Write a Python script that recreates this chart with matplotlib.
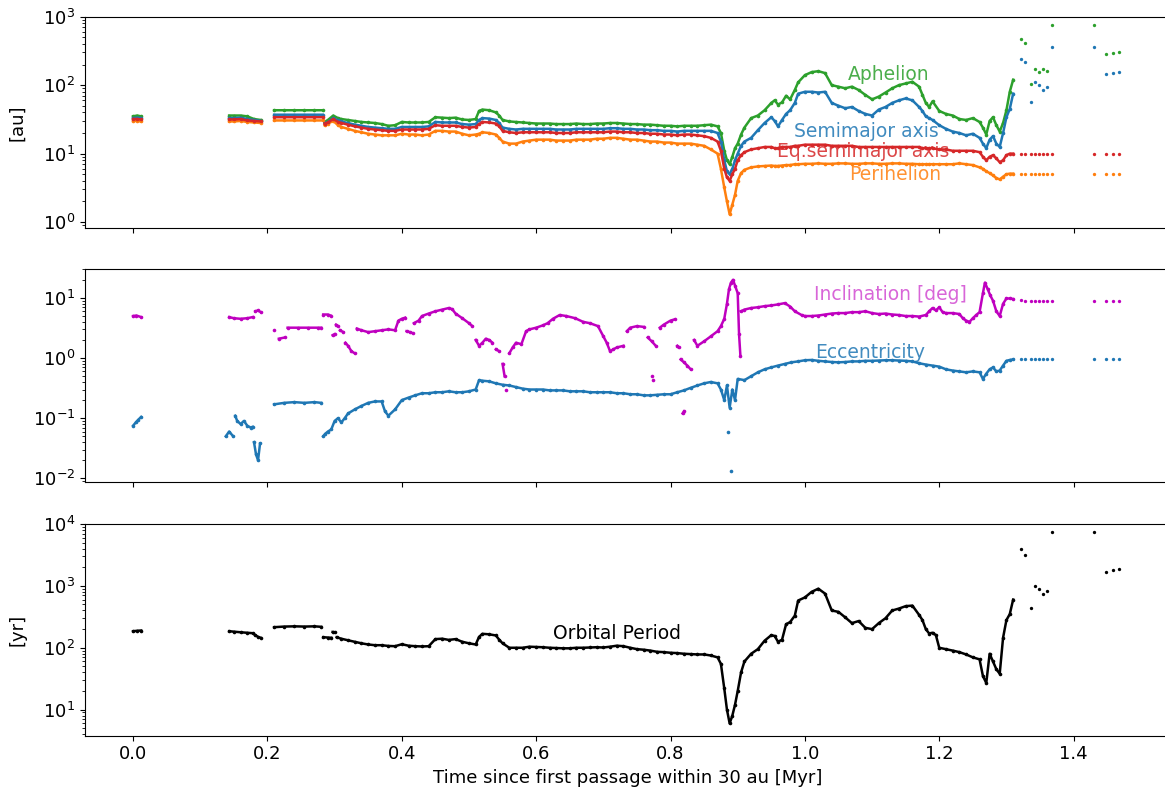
import numpy as np
import matplotlib
matplotlib.use("Agg")
import matplotlib.pyplot as plt

nan = np.nan

# ---- top panel: distances [au] (nan = gap in the record) ----
t_top = [0.0, 0.006, 0.012, nan,
         0.143, 0.15, 0.16, 0.17, 0.18, 0.19, nan,
         0.21, 0.225, 0.24, 0.255, 0.27, 0.282, nan,
         0.285, 0.29, 0.298, 0.305, 0.31, 0.32, 0.33, 0.34, 0.35, 0.36, 0.37, 0.38, 0.39,
         0.40, 0.41, 0.42, 0.43, 0.44, 0.45, 0.46, 0.47, 0.48, 0.49, 0.50, 0.51, 0.515,
         0.52, 0.53, 0.54, 0.545, 0.55, 0.56, 0.57, 0.58, 0.59, 0.60, 0.61, 0.62, 0.63,
         0.64, 0.65, 0.66, 0.67, 0.68, 0.69, 0.70, 0.71, 0.72, 0.73, 0.74, 0.75, 0.76,
         0.77, 0.78, 0.79, 0.80, 0.81, 0.82, 0.83, 0.84, 0.85, 0.86, 0.87, 0.875, 0.88,
         0.884, 0.888, 0.892, 0.896, 0.90, 0.905, 0.91, 0.92, 0.93, 0.94, 0.95, 0.955,
         0.96, 0.966, 0.972, 0.978, 0.985, 0.99, 1.00, 1.01, 1.02, 1.03, 1.04, 1.05,
         1.06, 1.07, 1.08, 1.09, 1.10, 1.11, 1.12, 1.13, 1.14, 1.15, 1.16, 1.17, 1.175,
         1.18, 1.185, 1.19, 1.20, 1.21, 1.22, 1.23, 1.24, 1.25, 1.26, 1.265, 1.27, 1.275,
         1.28, 1.285, 1.29, 1.295, 1.30, 1.305, 1.31]
aphelion = [35, 36, 35, nan,
            36, 36, 36, 35, 32, 31, nan,
            43, 43, 43, 43, 43, 43, nan,
            29, 31, 36, 33, 32, 31, 30, 29, 28.5, 28, 27, 25.5, 26,
            29, 28.5, 28.5, 28.5, 29, 34, 33.5, 33, 33.5, 31.5, 31, 32, 42,
            44, 43, 40, 36, 31, 29.5, 29, 28.5, 28, 27.5, 27.5, 27.5, 27,
            27, 27, 27.5, 27, 27, 27.5, 27.5, 28, 28, 27.5, 27, 27, 26.5,
            26.5, 26, 25.5, 25.5, 25, 25.5, 25.5, 25.5, 26, 26.5, 25, 20, 11,
            8, 7, 9, 12, 14, 19, 24, 33, 36, 43, 55, 60,
            52, 56, 70, 62, 85, 110, 140, 155, 160, 150, 100, 95,
            90, 95, 85, 72, 62, 68, 78, 90, 100, 106, 112, 95, 72,
            55, 48, 58, 42, 38, 36, 32, 31, 33, 29, 24, 19, 30,
            34, 26, 21, 28, 43, 80, 120]
semimajor = [33, 33.5, 33, nan,
             33, 33, 33.5, 32, 31, 30, nan,
             37, 37, 37, 37, 37, 37, nan,
             28, 29, 33, 30.5, 29.5, 28, 26.5, 25.5, 24.5, 24, 23.5, 23, 23,
             24.5, 24.5, 24.5, 24.5, 25, 29, 28.5, 28.5, 28.5, 27, 26.5, 27, 31,
             33, 32.5, 31, 28, 24, 23, 22.5, 23, 23, 23, 23, 23, 22.5,
             22.5, 22.5, 23, 23, 23, 23, 23, 23.5, 23.5, 23, 23, 22.5, 22.5,
             22, 22, 21.5, 21.5, 21, 21.5, 21.5, 21.5, 21.5, 21.5, 20, 15, 8,
             5.5, 5, 6, 8, 10, 13, 15, 17, 22, 28, 34, 30,
             25, 31, 38, 43, 55, 75, 80, 80, 78, 80, 55, 50,
             46, 48, 42, 38, 36, 44, 48, 55, 60, 64, 60, 48, 42,
             35, 33, 31, 26, 23, 21, 20, 18.5, 19.5, 17, 14, 12, 16,
             18, 14, 12.5, 20, 34, 45, 75]
eq_semimajor = [32, 32, 31.5, nan,
                31.5, 31.5, 32, 30.5, 30, 29.5, nan,
                34, 34, 34, 34, 34, 34, nan,
                27.5, 28.5, 32, 29, 28, 26.5, 25, 24, 23, 22.5, 22, 21.5, 21.5,
                22.5, 22.5, 22.5, 22.5, 23, 26, 25.5, 25.5, 25.5, 24.5, 24, 24.5, 27,
                29, 28.5, 27.5, 25, 21.5, 20.5, 20, 20.5, 20.5, 20.5, 20.5, 20.5, 20,
                20, 20, 20.5, 20.5, 20.5, 20.5, 20.5, 21, 21, 20.5, 20.5, 20, 20,
                19.5, 19.5, 19, 19, 18.5, 19, 19, 18.5, 18, 17, 15, 11, 6,
                4.5, 4, 5, 6, 8, 9.5, 10.5, 11.5, 12, 12.5, 12.5, 12,
                12, 12.5, 12.5, 12.5, 13, 13, 13.5, 13.5, 13.5, 13.5, 13, 13,
                13, 13, 12.5, 12.5, 12.5, 12.5, 12.5, 12.5, 12.5, 12.5, 12.5, 12.5, 12,
                12, 12, 12, 11.5, 11.5, 11, 11, 11, 11, 10.5, 9, 8, 9,
                9.5, 8.5, 7.5, 8, 9.5, 10, 10]
perihelion = [30, 30, 29.5, nan,
              29.5, 29.5, 30, 29, 28.5, 28, nan,
              30.5, 30.5, 30.5, 30.5, 30.5, 30.5, nan,
              26, 27.5, 30, 26, 24.5, 23, 21.5, 20.5, 19.5, 19, 18.5, 18.5, 18.5,
              19.5, 19, 19, 18.5, 19, 21.5, 21.5, 21, 21, 19.5, 18.5, 19, 19.5,
              20.5, 20, 19, 17, 15, 14, 14, 15, 15.5, 16, 16, 16, 15.5,
              15.5, 15.5, 16, 16, 16, 16.5, 16.5, 17, 17, 16.5, 16, 16, 15.5,
              15, 15, 14.5, 14.5, 14, 14, 14, 13.5, 13, 11.5, 10, 6, 3.2,
              2, 1.3, 1.8, 2.5, 4, 5.2, 5.8, 6.3, 6.5, 6.6, 6.7, 6.6,
              6.6, 6.7, 6.8, 6.8, 7, 7, 7.1, 7.1, 7.2, 7.1, 7.1, 7.2,
              7.2, 7.1, 7.1, 7.2, 7.2, 7.1, 7.1, 7.2, 7.2, 7.1, 7.1, 7.0, 7.0,
              7.0, 7.0, 7.0, 7.0, 7.0, 7.0, 7.2, 7.0, 6.8, 6.3, 6.0, 5.5, 5.2,
              4.8, 4.4, 4.2, 4.6, 5.0, 5.1, 5.1]

# sparse late-time outputs
t_tail = [1.322, 1.328, 1.336, 1.342, 1.348, 1.354, 1.36, 1.368, 1.43, 1.448, 1.458, 1.468]
aphelion_tail = [480, 410, 105, 175, 155, 170, 160, 750, 750, 285, 290, 300]
semimajor_tail = [245, 220, 57, 112, 100, 85, 95, 365, 365, 145, 150, 155]
eq_semimajor_tail = [10, 10, 10, 10, 10, 10, 10, 10, 10, 10, 10, 10]
perihelion_tail = [5.1, 5.1, 5.1, 5.1, 5.1, 5.1, 5.1, 5.1, 5.1, 5.1, 5.1, 5.1]

# ---- middle panel ----
t_inc = [0.0, 0.005, 0.012, nan,
         0.143, 0.15, 0.16, 0.17, 0.178, nan, 0.182, 0.186, 0.19, nan,
         0.21, nan, 0.217, 0.226, nan, 0.23, 0.245, 0.26, 0.275, 0.28, nan,
         0.283, 0.29, 0.294, nan, 0.297, 0.30, nan, 0.302, 0.305, nan, 0.308, 0.313, nan,
         0.316, 0.32, 0.325, 0.33, nan,
         0.333, 0.34, 0.35, 0.36, 0.37, 0.38, 0.39, 0.395, 0.40, 0.405, nan,
         0.407, 0.412, 0.416, nan,
         0.418, 0.425, 0.43, 0.44, 0.45, 0.46, 0.47, 0.475, 0.48, 0.49, 0.50, 0.505, nan,
         0.51, 0.515, 0.52, 0.525, 0.53, 0.535, nan, 0.54, 0.545, nan, 0.55, 0.553, nan, 0.555, nan,
         0.56, 0.565, 0.57, 0.578, 0.585, 0.59, 0.60, 0.61, 0.617, 0.625, 0.635, 0.645,
         0.658, 0.67, 0.68, 0.692, 0.70, 0.705, 0.71, 0.715, 0.72, 0.73, nan,
         0.735, 0.74, 0.75, 0.76, nan, 0.766, 0.772, 0.778, nan, 0.772, nan, 0.774, nan,
         0.784, 0.79, 0.80, 0.806, nan, 0.81, 0.812, nan, 0.815, 0.82, 0.825, 0.83, nan,
         0.818, 0.82, nan,
         0.835, 0.84, 0.85, 0.86, 0.87, 0.875, 0.88, 0.884, 0.887, 0.89, 0.893, 0.896, 0.90,
         0.902, 0.904, nan,
         0.905, 0.91, 0.92, 0.93, 0.94, 0.95, 0.96, 0.97, 0.978, 0.985, 0.995, 1.00, 1.01,
         1.02, 1.03, 1.04, 1.05, 1.06, 1.07, 1.08, 1.09, 1.10, 1.11, 1.12, 1.13, 1.14, 1.15,
         1.16, 1.17, 1.18, 1.185, 1.19, 1.195, 1.20, 1.205, 1.21, 1.22, 1.23, 1.235, 1.24,
         1.245, 1.25, 1.255, 1.26, 1.265, 1.268, 1.272, 1.276, 1.28, 1.285, 1.29, 1.295,
         1.30, 1.305, 1.31]
inclination = [5.0, 5.1, 4.8, nan,
               4.8, 4.6, 4.5, 4.6, 4.8, nan, 6.0, 6.2, 5.8, nan,
               2.9, nan, 2.1, 2.2, nan, 3.2, 3.2, 3.2, 3.2, 3.2, nan,
               5.3, 5.3, 5.1, nan, 2.4, 2.5, nan, 3.6, 3.4, nan, 2.9, 2.7, nan,
               1.8, 1.6, 1.3, 1.2, nan,
               3.1, 2.9, 2.7, 2.8, 2.9, 3.0, 2.9, 4.2, 4.5, 4.7, nan,
               2.8, 2.7, 2.6, nan,
               3.8, 4.2, 5.0, 5.5, 6.0, 6.4, 6.8, 6.5, 5.5, 4.6, 3.8, 3.4, nan,
               2.0, 1.6, 1.8, 2.1, 2.0, 1.8, nan, 1.4, 1.3, nan, 0.8, 0.5, nan, 0.3, nan,
               1.2, 1.5, 1.8, 1.7, 2.8, 3.0, 3.2, 3.5, 3.8, 4.5, 5.2, 5.0,
               4.6, 4.0, 3.8, 3.4, 2.3, 1.8, 1.3, 1.4, 1.5, 1.6, nan,
               2.8, 3.2, 3.4, 3.3, nan, 2.2, 1.9, 1.6, nan, 0.5, nan, 0.43, nan,
               3.2, 3.6, 4.2, 4.4, nan, 1.6, 1.5, nan, 0.95, 0.85, 0.75, 0.65, nan,
               0.12, 0.13, nan,
               2.0, 1.6, 1.9, 2.3, 2.8, 3.4, 4.5, 8, 14, 18, 20, 16, 12,
               2.5, 1.1, nan,
               6.0, 6.4, 6.8, 7.0, 7.3, 7.5, 7.8, 8.2, 7.2, 6.0, 5.2, 5.0, 5.0,
               5.1, 5.3, 5.5, 5.6, 5.6, 5.8, 5.8, 6.0, 5.6, 5.4, 5.5, 5.3, 5.2, 5.0,
               5.0, 4.9, 5.2, 6.0, 6.8, 6.2, 7.0, 5.8, 5.6, 5.6, 5.4, 4.6, 4.2,
               4.0, 4.6, 5.2, 5.8, 12, 18, 14, 11, 9, 6, 5, 8,
               9.8, 9.8, 9.6]
inclination_tail = [9.3, 9.0, 9.0, 9.0, 8.8, 8.8, 8.8, 8.8, 8.8, 8.8, 8.8, 8.8]

t_ecc = [0.0, 0.004, 0.008, 0.012, nan,
         0.138, 0.143, 0.149, nan,
         0.152, 0.155, 0.16, 0.165, 0.17, 0.175, 0.178, nan,
         0.18, 0.183, 0.186, 0.189, nan,
         0.21, 0.225, 0.24, 0.255, 0.27, 0.28, nan,
         0.283, 0.286, 0.29, 0.295, 0.30, 0.305, 0.31, 0.315, 0.32, 0.33, 0.34, 0.35,
         0.36, 0.37, 0.375, 0.38, 0.39, 0.40, 0.41, 0.42, 0.43, 0.44, 0.45, 0.46, 0.47,
         0.48, 0.49, 0.50, 0.51, 0.515, 0.52, 0.53, 0.54, 0.55, 0.56, 0.57, 0.58, 0.59,
         0.60, 0.61, 0.62, 0.63, 0.64, 0.65, 0.66, 0.67, 0.68, 0.69, 0.70, 0.71, 0.72,
         0.73, 0.74, 0.75, 0.76, 0.77, 0.78, 0.79, 0.80, 0.81, 0.82, 0.83, 0.84, 0.85,
         0.86, 0.87, 0.875, 0.88, 0.884, 0.888, 0.892, 0.896, 0.90, 0.91, 0.92, 0.93,
         0.94, 0.95, 0.96, 0.97, 0.98, 0.99, 1.00, 1.01, 1.02, 1.03, 1.04, 1.05, 1.06,
         1.07, 1.08, 1.09, 1.10, 1.11, 1.12, 1.13, 1.14, 1.15, 1.16, 1.17, 1.18, 1.19,
         1.20, 1.21, 1.22, 1.23, 1.24, 1.25, 1.26, 1.265, 1.27, 1.275, 1.28, 1.285,
         1.29, 1.295, 1.30, 1.305, 1.31, nan,
         0.885, nan, 0.89]
eccentricity = [0.075, 0.085, 0.095, 0.105, nan,
                0.05, 0.06, 0.05, nan,
                0.11, 0.09, 0.08, 0.09, 0.075, 0.07, 0.072, nan,
                0.04, 0.025, 0.02, 0.038, nan,
                0.17, 0.18, 0.185, 0.18, 0.185, 0.18, nan,
                0.05, 0.055, 0.06, 0.065, 0.09, 0.10, 0.085, 0.10, 0.12, 0.14, 0.16, 0.18,
                0.19, 0.19, 0.13, 0.11, 0.14, 0.20, 0.22, 0.24, 0.26, 0.26, 0.27, 0.27, 0.28,
                0.27, 0.27, 0.28, 0.30, 0.43, 0.42, 0.41, 0.38, 0.36, 0.35, 0.33, 0.31, 0.30,
                0.30, 0.30, 0.29, 0.29, 0.29, 0.28, 0.28, 0.28, 0.27, 0.27, 0.27, 0.27, 0.26,
                0.26, 0.25, 0.25, 0.24, 0.24, 0.245, 0.25, 0.25, 0.27, 0.29, 0.32, 0.35, 0.38,
                0.40, 0.38, 0.30, 0.20, 0.35, 0.15, 0.30, 0.20, 0.45, 0.43, 0.50, 0.58,
                0.65, 0.70, 0.75, 0.80, 0.85, 0.88, 0.92, 0.93, 0.90, 0.88, 0.86, 0.85, 0.86,
                0.88, 0.88, 0.90, 0.90, 0.91, 0.92, 0.92, 0.91, 0.90, 0.88, 0.82, 0.78, 0.75,
                0.72, 0.65, 0.62, 0.60, 0.58, 0.60, 0.58, 0.45, 0.55, 0.65, 0.70, 0.60,
                0.62, 0.75, 0.90, 0.93, 0.95, nan,
                0.06, nan, 0.013]
eccentricity_tail = [0.96, 0.96, 0.96, 0.96, 0.96, 0.96, 0.96, 0.96, 0.96, 0.96, 0.96, 0.96]

# ---- bottom panel: orbital period [yr] ----
t_per = [0.0, 0.006, 0.012, nan,
         0.143, 0.15, 0.16, 0.17, 0.178, 0.182, 0.186, 0.19, nan,
         0.21, 0.225, 0.24, 0.255, 0.27, 0.28, nan,
         0.283, 0.29, 0.295, nan, 0.297, 0.30, nan,
         0.303, 0.31, 0.32, 0.33, 0.34, 0.35, 0.36, 0.37, 0.38, 0.39, 0.40, 0.41, 0.42,
         0.43, 0.44, 0.45, 0.46, 0.47, 0.48, 0.49, 0.50, 0.51, 0.515, 0.52, 0.53, 0.54,
         0.545, 0.55, 0.56, 0.57, 0.58, 0.59, 0.60, 0.61, 0.62, 0.63, 0.64, 0.65, 0.66,
         0.67, 0.68, 0.69, 0.70, 0.71, 0.72, 0.73, 0.74, 0.75, 0.76, 0.77, 0.78, 0.79,
         0.80, 0.81, 0.82, 0.83, 0.84, 0.85, 0.86, 0.87, 0.875, 0.88, 0.884, 0.888, 0.892,
         0.896, 0.90, 0.905, 0.91, 0.92, 0.93, 0.94, 0.95, 0.955, 0.96, 0.966, 0.972,
         0.978, 0.985, 0.99, 1.00, 1.01, 1.02, 1.03, 1.04, 1.05, 1.06, 1.07, 1.08, 1.09,
         1.10, 1.11, 1.12, 1.13, 1.14, 1.15, 1.16, 1.17, 1.175, 1.18, 1.185, 1.19, 1.195,
         1.20, 1.21, 1.22, 1.23, 1.24, 1.25, 1.26, 1.265, 1.27, 1.275, 1.28, 1.285, 1.29,
         1.295, 1.30, 1.305, 1.31]
period = [185, 188, 190, nan,
          185, 182, 178, 175, 172, 160, 150, 145, nan,
          215, 220, 222, 220, 222, 218, nan,
          148, 146, 145, nan, 180, 178, nan,
          148, 140, 132, 125, 118, 113, 110, 110, 107, 106, 114, 108, 106,
          105, 106, 138, 140, 134, 138, 125, 118, 113, 150, 168, 165, 158,
          135, 118, 100, 100, 100, 104, 103, 102, 100, 99, 98, 98, 100,
          100, 101, 102, 101, 104, 108, 106, 100, 95, 93, 90, 86, 85,
          83, 82, 80, 79, 78, 78, 75, 70, 55, 22, 10, 6, 8,
          12, 20, 40, 60, 80, 95, 130, 160, 155, 125, 135, 240,
          260, 330, 580, 650, 800, 900, 750, 400, 380, 310, 250, 270, 210,
          200, 250, 300, 400, 430, 470, 480, 340, 280, 200, 170, 175, 160,
          100, 95, 90, 85, 78, 70, 65, 35, 27, 80, 60, 45, 38,
          145, 280, 350, 600]
period_tail = [3900, 3100, 445, 1000, 900, 750, 820, 7300, 7300, 1700, 1800, 1900]

x_ticks = [0.0, 0.2, 0.4, 0.6, 0.8, 1.0, 1.2, 1.4]

# ---------------- figure ----------------
plt.rcParams["font.family"] = "DejaVu Sans"
plt.rcParams["font.size"] = 13

fig = plt.figure(figsize=(11.65, 7.98), dpi=100)
W = 0.9313
ax1 = fig.add_axes([0.073, 0.7143, W, 0.2648])
ax2 = fig.add_axes([0.073, 0.3964, W, 0.2662])
ax3 = fig.add_axes([0.073, 0.0781, W, 0.2653])

green, blue, red, orange = "#2ca02c", "#1f77b4", "#d62728", "#ff7f0e"


def draw(ax, t, v, color, tt=None, vt=None):
    ax.plot(t, v, color=color, lw=1.8, marker="o", ms=2.6, mew=0)
    if tt is not None:
        ax.plot(tt, vt, color=color, ls="none", marker="o", ms=2.4, mew=0)


draw(ax1, t_top, aphelion, green, t_tail, aphelion_tail)
draw(ax1, t_top, semimajor, blue, t_tail, semimajor_tail)
draw(ax1, t_top, perihelion, orange, t_tail, perihelion_tail)
draw(ax1, t_top, eq_semimajor, red, t_tail, eq_semimajor_tail)

draw(ax2, t_inc, inclination, "m", t_tail, inclination_tail)
draw(ax2, t_ecc, eccentricity, blue, t_tail, eccentricity_tail)

draw(ax3, t_per, period, "k", t_tail, period_tail)

for ax in (ax1, ax2, ax3):
    ax.set_yscale("log")
    ax.set_xlim(-0.0715, 1.5435)
    ax.set_xticks(x_ticks)
    ax.tick_params(labelsize=13)

ax1.set_ylim(0.82, 1000)
ax2.set_ylim(0.0088, 30)
ax3.set_ylim(3.8, 1e4)
ax1.tick_params(labelbottom=False)
ax2.tick_params(labelbottom=False)
ax3.set_xticklabels(["0.0", "0.2", "0.4", "0.6", "0.8", "1.0", "1.2", "1.4"])

ax1.set_ylabel("[au]", fontsize=13, labelpad=12)
ax3.set_ylabel("[yr]", fontsize=13, labelpad=12)
ax3.set_xlabel("Time since first passage within 30 au [Myr]", fontsize=13)

lab = dict(fontsize=13.5, ha="center", va="center")
ax1.text(1.125, 145, "Aphelion", color=green, alpha=0.85, **lab)
ax1.text(1.092, 20.8, "Semimajor axis", color=blue, alpha=0.85, **lab)
ax1.text(1.087, 10.6, "Eq.semimajor axis", color=red, alpha=0.85, **lab)
ax1.text(1.134, 4.9, "Perihelion", color=orange, alpha=0.85, **lab)

ax2.text(1.128, 11.2, "Inclination [deg]", color="m", alpha=0.6, **lab)
ax2.text(1.097, 1.25, "Eccentricity", color=blue, alpha=0.85, **lab)

ax3.text(0.72, 172, "Orbital Period", color="k", **lab)

fig.savefig("out.png", dpi=100)
